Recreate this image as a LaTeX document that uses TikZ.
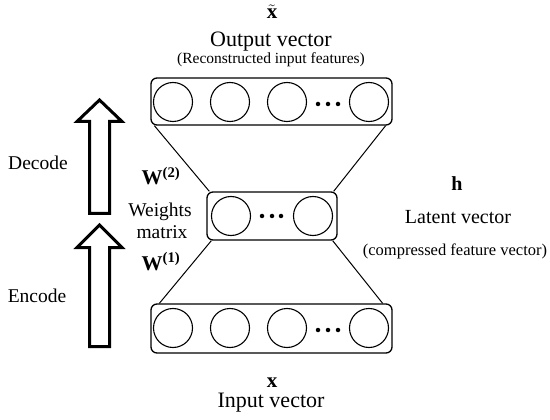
\documentclass[tikz,border=0pt]{standalone}
\usepackage{fontspec}
\setmainfont{Liberation Serif}
\usetikzlibrary{positioning}

\tikzset{
  layer/.style={draw,rounded corners=6pt,line width=1.3pt,minimum width=241pt,inner sep=0pt},
  unit/.style={draw,circle,line width=1.1pt,minimum size=39pt,inner sep=0pt},
  dot/.style={fill,circle,minimum size=4.5pt,inner sep=0pt},
  flow/.style={draw,line width=3pt,line join=miter},
  big/.style={font=\fontsize{22}{26}\selectfont,anchor=base},
  mid/.style={font=\fontsize{19.5}{23}\selectfont,anchor=base},
  small/.style={font=\fontsize{16}{19}\selectfont,anchor=base}
}

\begin{document}
\begin{tikzpicture}[x=1pt,y=-1pt]
    \useasboundingbox (0,0) rectangle (550,420);

    \node[layer,minimum height=47pt] (outlayer) at (271.5,101.5) {};
    \node[layer,minimum width=130pt,minimum height=48pt] (latlayer) at (272,216) {};
    \node[layer,minimum height=49pt] (inlayer) at (271.5,328.5) {};

    \node[unit] (out1) at (173,102) {};
    \node[unit] (out2) at (230,102) {};
    \node[unit] (out3) at (287,102) {};
    \node[unit] (out4) at (369,102) {};

    \node[unit] (lat1) at (231,216) {};
    \node[unit] (lat2) at (313,216) {};

    \node[unit] (in1) at (173,328) {};
    \node[unit] (in2) at (230,328) {};
    \node[unit] (in3) at (287,328) {};
    \node[unit] (in4) at (369,328) {};

    \foreach \x/\y in {318/104,328/104,338/104,262/216,272/216,281/216,318/330,328/330,338/330}
        \node[dot] at (\x,\y) {};

    \draw[line width=1pt] ([xshift=4pt]outlayer.south west)--([xshift=3pt]latlayer.north west);
    \draw[line width=1pt] ([xshift=-7pt]outlayer.south east)--([xshift=-4pt]latlayer.north east);
    \draw[line width=1pt] ([xshift=5pt]latlayer.south west)--([xshift=9pt]inlayer.north west);
    \draw[line width=1pt] ([xshift=-5pt]latlayer.south east)--([xshift=-10pt]inlayer.north east);

    % decode and encode arrows
    \foreach \bot/\base/\tip in {213.5/121.5/100, 346.5/247.5/225}
        \draw[flow] (89.5,\bot) -- (89.5,\base) -- (77,\base) -- (99.5,\tip)
            -- (122,\base) -- (109.5,\base) -- (109.5,\bot) -- cycle;

    \node[big,font=\fontsize{21}{24}\bfseries\selectfont] (labelxt) at (272,19) {$\tilde{\mbox{x}}$};
    \node[big] (labelout) at (271,47) {Output vector};
    \node[small,font=\fontsize{15.5}{18}\selectfont] (labelrec) at (271,64) {(Reconstructed input features)};

    \node[mid] (labeldec) at (38,170) {Decode};
    \node[mid] (labelenc) at (37,302) {Encode};

    \node[mid,font=\fontsize{21}{24}\bfseries\selectfont] (labelw2) at (161,185) {W\textsuperscript{(2)}};
    \node[mid] (labelwts) at (160,217) {Weights};
    \node[mid] (labelmat) at (162,238) {matrix};
    \node[mid,font=\fontsize{21}{24}\bfseries\selectfont] (labelw1) at (161,270) {W\textsuperscript{(1)}};

    \node[mid,font=\fontsize{20}{23}\bfseries\selectfont] (labelh) at (457,190) {h};
    \node[big,font=\fontsize{20}{24}\selectfont] (labellat) at (458,223) {Latent vector};
    \node[small,font=\fontsize{16.5}{19}\selectfont] (labelcmp) at (455,255) {(compressed feature vector)};

    \node[big,font=\fontsize{21}{24}\bfseries\selectfont] (labelx) at (272,387) {x};
    \node[big] (labelin) at (271,407) {Input vector};
  \end{tikzpicture}
\end{document}
